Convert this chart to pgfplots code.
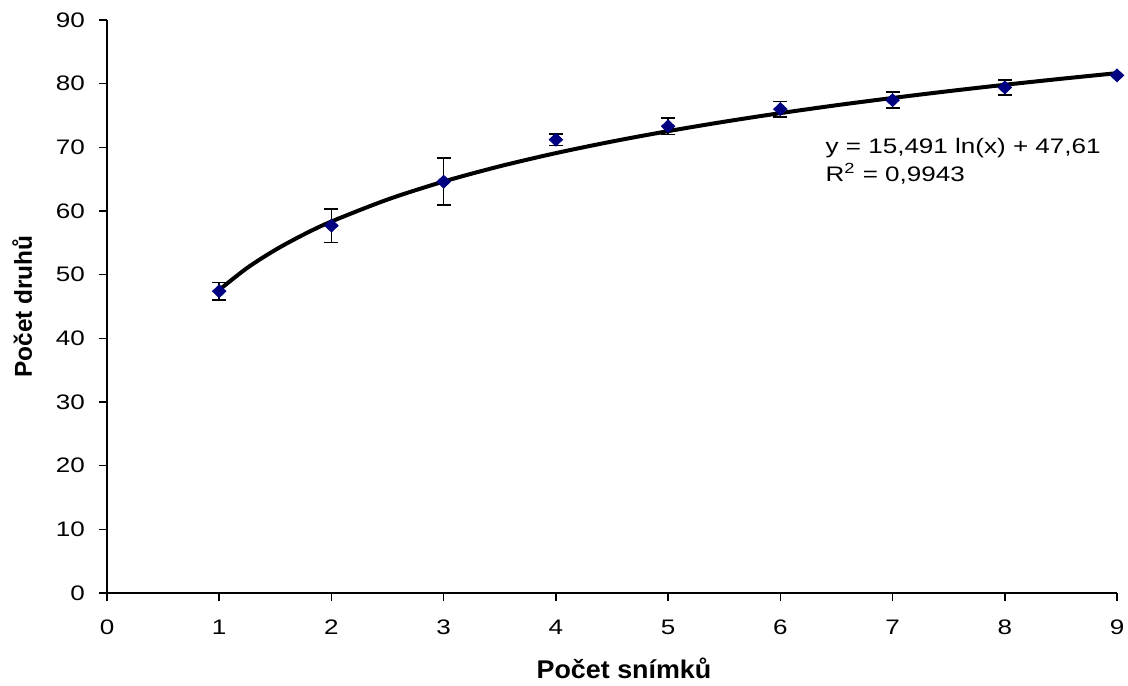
\documentclass[border=0pt]{standalone}
\usepackage{fontspec}
\setmainfont{Liberation Sans}
\newfontfamily\tickfont{Liberation Sans}[FakeStretch=1.24]
\newfontfamily\labfont{Liberation Sans}[FakeStretch=1.05]
\usepackage{pgfplots}
\pgfplotsset{compat=1.18}
\definecolor{navy}{RGB}{0,0,128}
\begin{document}
\begin{tikzpicture}
\begin{axis}[
  name=ax,
  scale only axis,
  width=505pt, height=286.5pt,
  xmin=0, xmax=9, ymin=0, ymax=90,
  xtick={0,...,9}, ytick={0,10,...,90},
  axis x line=bottom, axis y line=left,
  axis line style={-, line width=0.8pt, black},
  tick style={line width=0.8pt, black},
  tick align=outside,
  major tick length=4pt,
  /pgf/number format/assume math mode=true,
  tick label style={font=\tickfont\fontsize{10.5}{12}\selectfont},
  xticklabel style={yshift=-6pt},
  yticklabel style={xshift=-3.5pt},
  xlabel={\textbf{Počet snímků}},
  ylabel={\textbf{Počet druhů}},
  xlabel style={font=\labfont\fontsize{12.8}{14}\selectfont, at={(axis description cs:0.5,-0.1309)}, anchor=center, xshift=6pt},
  ylabel style={font=\fontsize{12.2}{14}\selectfont, at={(axis description cs:-0.084,0.5)}, anchor=center},
  clip=false,
]
\addplot[only marks, mark=diamond*, mark size=3.2pt, mark options={xscale=1.4, fill=navy, draw=navy},
  error bars/.cd, y dir=both, y explicit,
  error bar style={line width=0.8pt, black},
  error mark options={rotate=90, mark size=3.5pt, line width=0.8pt, black}]
  coordinates {
  (1,47.4) +- (0,1.35)
  (2,57.7) +- (0,2.65)
  (3,64.6) +- (0,3.7)
  (4,71.2) +- (0,0.9)
  (5,73.3) +- (0,1.3)
  (6,76.0) +- (0,1.2)
  (7,77.4) +- (0,1.25)
  (8,79.4) +- (0,1.15)
  (9,81.3) +- (0,0)
  };
\addplot[black, line width=2pt, smooth, no marks] coordinates {
  (1,47.61) (1.25,51.07) (1.5,53.89) (1.75,56.28) (2,58.35) (2.5,61.80)
  (3,64.63) (3.5,67.02) (4,69.09) (4.5,70.91) (5,72.54) (5.5,74.02)
  (6,75.37) (6.5,76.61) (7,77.75) (7.5,78.82) (8,79.82) (8.5,80.76) (9,81.65)
  };
\node[anchor=base west, font=\tickfont\fontsize{10.5}{12}\selectfont, inner sep=0pt] at (axis cs:6.4,69.07) {y = 15,491 ln(x) + 47,61};
\node[anchor=base west, font=\tickfont\fontsize{10.5}{12}\selectfont, inner sep=0pt] at (axis cs:6.4,64.7) {R\textsuperscript{2} = 0,9943};
\end{axis}
\pgfresetboundingbox
\path[use as bounding box] ([shift={(-53.5pt,-46.5pt)}]ax.south west) rectangle ([shift={(5.5pt,10pt)}]ax.north east);
\end{tikzpicture}
\end{document}
